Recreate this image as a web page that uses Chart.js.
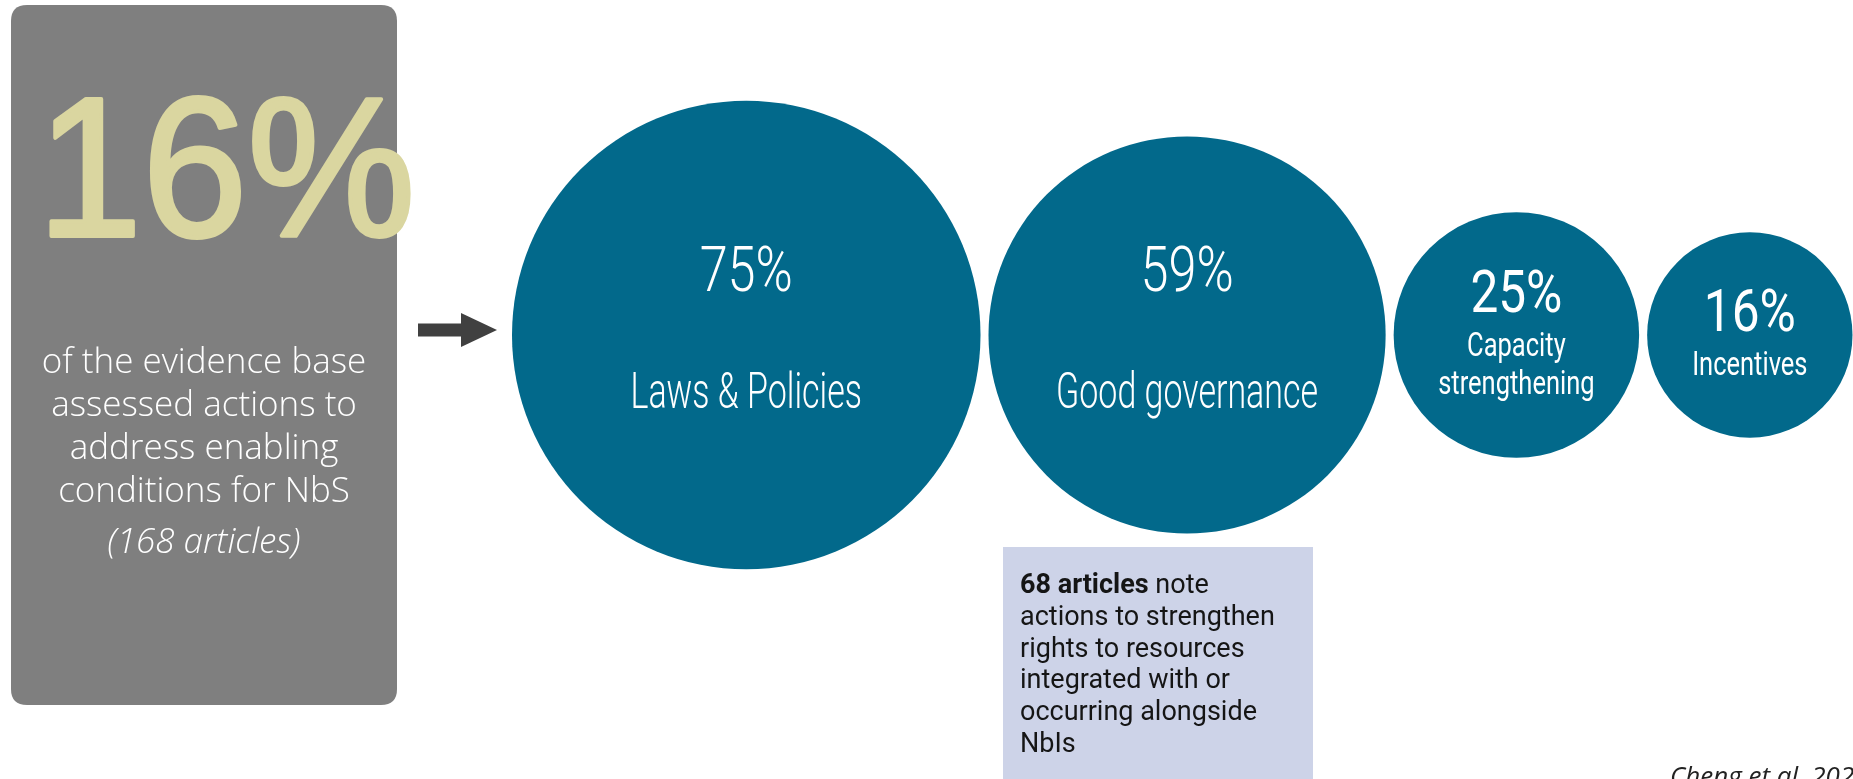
<!DOCTYPE html>
<html>
<head>
<meta charset="utf-8">
<title>Enabling conditions for NbS</title>
<script src="https://cdn.jsdelivr.net/npm/chart.js@4.4.0/dist/chart.umd.min.js"></script>
<style>
  html, body { margin: 0; padding: 0; background: #ffffff; overflow: hidden; }
  #wrap { width: 1853px; height: 779px; position: relative; }
</style>
</head>
<body>
<div id="wrap"><canvas id="chart" width="1853" height="779"></canvas></div>
<script>
// Share of enabling-condition articles addressing each type of action
const categories = [['Laws & Policies'], ['Good governance'], ['Capacity', 'strengthening'], ['Incentives']];
const shares = [75, 59, 25, 16];

// Headline panel
const headlineShare = 16;
const headlineLines = ['of the evidence base', 'assessed actions to', 'address enabling', 'conditions for NbS'];
const headlineCount = '(168 articles)';

// Side note under "Good governance"
const noteLead = '68 articles';
const noteLines = [' note', 'actions to strengthen', 'rights to resources', 'integrated with or', 'occurring alongside', 'NbIs'];
const citation = 'Cheng et al. 2023';

const W = 1853, H = 779;
const BLUE = '#02698B';

// Bubble radius (px) grows with the share
const radiusFor = v => 67 + 2.23 * v;

// Bubbles sit in a row, packed edge to edge with a small gap
const rowLeft = 512, rowGap = 8, rowY = 335;
function packCentres(vals) {
  let edge = rowLeft;
  return vals.map(v => {
    const r = radiusFor(v);
    const c = edge + r;
    edge = c + r + rowGap;
    return c;
  });
}
const centres = packCentres(shares);

function squeezed(ctx, text, x, y, font, sx, align, color, strokeW) {
  ctx.save();
  ctx.font = font;
  ctx.fillStyle = color;
  ctx.textAlign = align;
  ctx.textBaseline = 'alphabetic';
  ctx.translate(x, y);
  ctx.scale(sx, 1);
  ctx.fillText(text, 0, 0);
  if (strokeW) {
    ctx.strokeStyle = color;
    ctx.lineWidth = strokeW;
    ctx.lineJoin = 'round';
    ctx.strokeText(text, 0, 0);
  }
  ctx.restore();
}

function roundRect(ctx, x, y, w, h, r) {
  ctx.beginPath();
  ctx.moveTo(x + r, y);
  ctx.lineTo(x + w - r, y);
  ctx.quadraticCurveTo(x + w, y, x + w, y + r);
  ctx.lineTo(x + w, y + h - r);
  ctx.quadraticCurveTo(x + w, y + h, x + w - r, y + h);
  ctx.lineTo(x + r, y + h);
  ctx.quadraticCurveTo(x, y + h, x, y + h - r);
  ctx.lineTo(x, y + r);
  ctx.quadraticCurveTo(x, y, x + r, y);
  ctx.closePath();
}

// Headline panel, arrow, note box and source line
const panelPlugin = {
  id: 'panel',
  beforeDatasetsDraw(chart) {
    const ctx = chart.ctx;
    ctx.save();
    // grey panel
    ctx.fillStyle = '#7F7F7F';
    roundRect(ctx, 11, 5, 386, 700, 16);
    ctx.fill();

    // big headline share
    squeezed(ctx, headlineShare + '%', 37, 236, '198px "Liberation Sans", Arial, sans-serif', 0.955, 'left', '#DAD6A0', 4);

    // description
    const lightFont = '300 35px "Open Sans", "Liberation Sans", sans-serif';
    headlineLines.forEach((t, i) => squeezed(ctx, t, 204, 373 + 43 * i, lightFont, 1, 'center', '#FFFFFF'));
    squeezed(ctx, headlineCount, 204, 553, 'italic 300 35px "Open Sans", "Liberation Sans", sans-serif', 1, 'center', '#FFFFFF');

    // arrow
    ctx.fillStyle = '#404040';
    ctx.fillRect(418, 323.5, 44, 13);
    ctx.beginPath();
    ctx.moveTo(461, 313);
    ctx.lineTo(497, 330);
    ctx.lineTo(461, 347);
    ctx.closePath();
    ctx.fill();

    // note box
    ctx.fillStyle = '#CDD3E8';
    ctx.fillRect(1003, 547, 310, 240);
    ctx.fillStyle = '#151515';
    ctx.textAlign = 'left';
    ctx.textBaseline = 'alphabetic';
    ctx.font = 'bold 27px Roboto, "Liberation Sans", sans-serif';
    ctx.fillText(noteLead, 1020, 593);
    const leadW = ctx.measureText(noteLead).width;
    ctx.font = '27px Roboto, "Liberation Sans", sans-serif';
    ctx.fillText(noteLines[0], 1020 + leadW, 593);
    noteLines.slice(1).forEach((t, i) => ctx.fillText(t, 1020, 593 + 31.8 * (i + 1)));

    // source
    ctx.fillStyle = '#222222';
    ctx.font = 'italic 26px "Open Sans", "Liberation Sans", sans-serif';
    ctx.fillText(citation, 1670, 785);
    ctx.restore();
  }
};

// Share and category written inside each bubble
const bubbleTextPlugin = {
  id: 'bubbleText',
  afterDatasetsDraw(chart) {
    const ctx = chart.ctx;
    const meta = chart.getDatasetMeta(0);
    const fam = 'Roboto, "Liberation Sans", sans-serif';
    meta.data.forEach((el, i) => {
      const x = el.x, y = el.y, r = el.options.radius;
      const lines = categories[i];
      const pct = shares[i] + '%';
      if (r > 160) {
        squeezed(ctx, pct, x, y - 44, '300 63px ' + fam, 0.8, 'center', '#FFFFFF');
        lines.forEach((t, k) => squeezed(ctx, t, x, y + 73 + 38 * k, '300 50px ' + fam, 0.68, 'center', '#FFFFFF'));
      } else {
        const base = y - 4 - 19 * (lines.length - 1);
        squeezed(ctx, pct, x, base, '400 59px ' + fam, 0.84, 'center', '#FFFFFF');
        lines.forEach((t, k) => squeezed(ctx, t, x, base + 43.5 + 38 * k, '400 34px ' + fam, 0.75, 'center', '#FFFFFF'));
      }
    });
  }
};

new Chart(document.getElementById('chart').getContext('2d'), {
  type: 'bubble',
  data: {
    datasets: [{
      label: 'Share of articles',
      data: shares.map((v, i) => ({ x: centres[i], y: rowY, r: radiusFor(v) })),
      backgroundColor: BLUE,
      borderWidth: 0,
      hoverBorderWidth: 0,
      hoverRadius: 0,
      clip: false
    }]
  },
  options: {
    responsive: false,
    animation: false,
    events: [],
    layout: { padding: 0, autoPadding: false },
    plugins: { legend: { display: false }, tooltip: { enabled: false } },
    scales: {
      x: { type: 'linear', min: 0, max: W, display: false },
      y: { type: 'linear', min: 0, max: H, reverse: true, display: false }
    }
  },
  plugins: [panelPlugin, bubbleTextPlugin]
});
</script>
</body>
</html>
